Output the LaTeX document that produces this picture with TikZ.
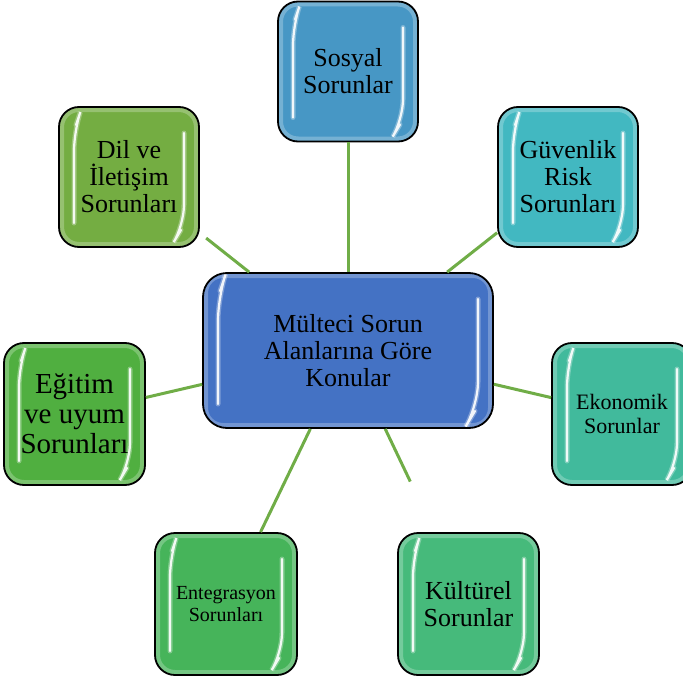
\documentclass[tikz,border=0pt]{standalone}
\usepackage{fontspec}
\setmainfont{Liberation Serif}
\definecolor{hubblue}{HTML}{4472C4}
\definecolor{sosyalblue}{HTML}{4797C5}
\definecolor{dilgreen}{HTML}{74AD42}
\definecolor{guventeal}{HTML}{42B8C1}
\definecolor{egitimgreen}{HTML}{50AF40}
\definecolor{ekonomikteal}{HTML}{41BA9C}
\definecolor{entegrgreen}{HTML}{46B45A}
\definecolor{kulturgreen}{HTML}{46BA7B}
\definecolor{linkgreen}{HTML}{70AD47}

\begin{document}
\begin{tikzpicture}[x=1pt, y=-1pt,
	shine/.style={white, line cap=round},
	topic/.style={rectangle, draw=black, line width=1.8pt, rounded corners=20pt,
		minimum width=140pt, minimum height=140pt, inner sep=0pt, align=center,
		font=\fontsize{26}{27}\selectfont,
		path picture={
			% soft light rim inside the border
			\draw[white, opacity=.25, line width=10pt, rounded corners=20pt]
				(path picture bounding box.south west) rectangle (path picture bounding box.north east);
			% glossy strips left and right
			\foreach \w/\o in {5pt/.3, 2.2pt/.9} {
				\draw[shine, opacity=\o, line width=\w]
					([xshift=17pt,yshift=-18pt]path picture bounding box.north west) --
					([xshift=15pt,yshift=-24pt]path picture bounding box.north west) --
					([xshift=15pt,yshift=24pt]path picture bounding box.south west);
				\draw[shine, opacity=\o, line width=\w]
					([xshift=-15pt,yshift=-26pt]path picture bounding box.north east) --
					([xshift=-15pt,yshift=22pt]path picture bounding box.south east) --
					([xshift=-18pt,yshift=17pt]path picture bounding box.south east);
			}
		}},
	hub/.style={topic, fill=hubblue, minimum width=290pt, minimum height=155pt, rounded corners=24pt},
	link/.style={draw=linkgreen, line width=3pt}]
	\useasboundingbox (0,0) rectangle (683,677);

	\node[hub] (hub) at (348,350.5) {Mülteci Sorun\\Alanlarına Göre\\Konular};

	\node[topic, fill=sosyalblue] (sosyal) at (348,71.5) {Sosyal\\Sorunlar};
	\node[topic, fill=dilgreen] (dil) at (129,177) {Dil ve\\İletişim\\Sorunları};
	\node[topic, fill=guventeal] (guvenlik) at (568,177) {Güvenlik\\Risk\\Sorunları};
	\node[topic, fill=egitimgreen, minimum width=141pt, minimum height=142pt,
		font=\fontsize{29}{30}\selectfont] (egitim) at (74.5,414) {Eğitim\\ve uyum\\Sorunları};
	\node[topic, fill=ekonomikteal, minimum height=142pt,
		font=\fontsize{22}{24}\selectfont] (ekonomik) at (622,414) {Ekonomik\\Sorunlar};
	\node[topic, fill=entegrgreen, minimum width=142pt, minimum height=142pt,
		font=\fontsize{20}{21.5}\selectfont] (entegrasyon) at (226,604) {Entegrasyon\\Sorunları};
	\node[topic, fill=kulturgreen, minimum width=141pt, minimum height=142pt] (kultur) at (468.5,604) {Kültürel\\Sorunlar};

	\draw[link] (hub) -- (sosyal);
	\draw[link, shorten >=8pt] (hub) -- (dil);
	\draw[link] (hub) -- (guvenlik);
	\draw[link] (hub) -- (egitim);
	\draw[link] (hub) -- (ekonomik);
	\draw[link] (hub) -- (entegrasyon);
	\draw[link, shorten >=56pt] (hub) -- (kultur);
\end{tikzpicture}
\end{document}
